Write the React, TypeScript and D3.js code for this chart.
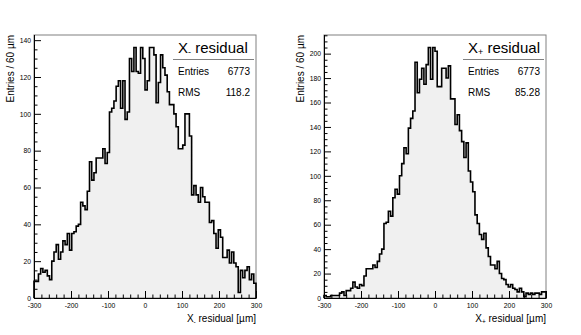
import React, { useEffect, useRef } from 'react';
import * as d3 from 'd3';

// bin contents, 100 bins of 6 um from -300 to 300
const xMinusCounts = [
  9, 9, 13, 16, 14, 15, 12, 10, 20, 25,
  29, 21, 25, 31, 29, 35, 26, 35, 36, 39,
  40, 52, 50, 48, 58, 74, 64, 68, 76, 76,
  76, 81, 73, 79, 101, 103, 107, 115, 118, 103,
  118, 97, 101, 130, 123, 136, 123, 122, 136, 130,
  113, 118, 136, 136, 132, 106, 117, 132, 125, 121,
  112, 105, 105, 100, 93, 81, 81, 83, 100, 100,
  88, 56, 61, 56, 52, 60, 55, 52, 52, 41,
  42, 35, 27, 37, 33, 22, 22, 26, 19, 25,
  19, 17, 3, 15, 11, 15, 17, 10, 13, 8,
];

const xPlusCounts = [
  2, 1, 1, 2, 2, 2, 2, 4, 5, 2,
  6, 6, 8, 13, 9, 8, 11, 10, 18, 24,
  24, 24, 27, 25, 30, 36, 40, 61, 62, 71,
  67, 82, 89, 85, 100, 110, 123, 118, 139, 147,
  153, 193, 168, 179, 188, 175, 191, 205, 179, 205,
  202, 173, 173, 188, 188, 180, 190, 163, 163, 142,
  150, 137, 128, 115, 127, 104, 95, 87, 68, 61,
  52, 48, 53, 41, 34, 27, 27, 24, 30, 20,
  16, 15, 11, 9, 11, 8, 7, 5, 8, 5,
  1, 4, 3, 4, 3, 4, 4, 3, 5, 5,
];

const binLow = -300;
const binHigh = 300;
const binWidth = 6;

const xTickValues = [-300, -200, -100, 0, 100, 200, 300];
const xMinusYTicks = [0, 20, 40, 60, 80, 100, 120, 140];
const xPlusYTicks = [0, 20, 40, 60, 80, 100, 120, 140, 160, 180, 200];

const statNames = ['Entries', 'RMS'];
const xMinusStats = ['6773', '118.2'];
const xPlusStats = ['6773', '85.28'];

const FONT = '"Liberation Sans", Arial, Helvetica, sans-serif';

const drawPanel = (svg, offset, counts, yTicks, subSign, stats) => {
    const g = svg.append('g').attr('transform', `translate(${offset},0)`);

    const x = d3.scaleLinear().domain([binLow, binHigh]).range([34, 256]);
    const y = d3.scaleLinear().domain([0, d3.max(counts) * 1.05]).range([298, 35]);

    const pts = counts.map((c, i) => [binLow + i * binWidth, c]);
    pts.push([binHigh, counts[counts.length - 1]]);

    const area = d3.area()
        .x(d => x(d[0]))
        .y0(y(0))
        .y1(d => y(d[1]))
        .curve(d3.curveStepAfter);

    const line = d3.line()
        .x(d => x(d[0]))
        .y(d => y(d[1]))
        .curve(d3.curveStepAfter);

    g.append('path').attr('d', area(pts)).attr('fill', '#f0f0f0');

    // frame
    g.append('rect')
        .attr('x', 34).attr('y', 35)
        .attr('width', 222).attr('height', 263)
        .attr('fill', 'none').attr('stroke', '#808080').attr('stroke-width', 1);

    g.append('path')
        .attr('d', line([[binLow, 0], ...pts, [binHigh, 0]]))
        .attr('fill', 'none')
        .attr('stroke', '#000')
        .attr('stroke-width', 1.6)
        .attr('stroke-linejoin', 'miter');

    // x axis
    const xAxis = g.append('g')
        .attr('transform', 'translate(0,298)')
        .call(d3.axisBottom(x).tickValues(xTickValues).tickFormat(d => String(d))
            .tickSize(-7).tickSizeOuter(0).tickPadding(5.5));
    xAxis.selectAll('text').attr('font-size', 6.8).attr('font-family', FONT);

    const xMinor = d3.range(binLow, binHigh + 1, 20).filter(v => v % 100 !== 0);
    g.selectAll('.xminor').data(xMinor).enter().append('line')
        .attr('x1', d => x(d) + 0.5).attr('x2', d => x(d) + 0.5)
        .attr('y1', 298).attr('y2', 294.5)
        .attr('stroke', '#000');

    // y axis
    const yAxis = g.append('g')
        .attr('transform', 'translate(34,0)')
        .call(d3.axisLeft(y).tickValues(yTicks).tickFormat(d => String(d))
            .tickSize(-7).tickSizeOuter(0).tickPadding(3));
    yAxis.select('.domain').attr('d', `M0.5,35V298.5`);
    yAxis.selectAll('text').attr('font-size', 6.8).attr('font-family', FONT);

    const yMinor = d3.range(0, y.domain()[1], 5).filter(v => v % 20 !== 0);
    g.selectAll('.yminor').data(yMinor).enter().append('line')
        .attr('x1', 34).attr('x2', 37.5)
        .attr('y1', d => y(d) + 0.5).attr('y2', d => y(d) + 0.5)
        .attr('stroke', '#000');

    // axis titles
    g.append('text')
        .attr('transform', 'translate(13.5,35) rotate(-90)')
        .attr('text-anchor', 'end')
        .attr('font-size', 10)
        .attr('font-family', FONT)
        .text('Entries / 60 µm');

    const xt = g.append('text')
        .attr('x', 256).attr('y', 322)
        .attr('text-anchor', 'end')
        .attr('font-size', 10)
        .attr('font-family', FONT);
    xt.append('tspan').text('X');
    xt.append('tspan').attr('dy', 1.5).attr('font-size', 6.5).text(subSign);
    xt.append('tspan').attr('dy', -1.5).text(' residual [µm]');

    // stats box
    const st = g.append('text')
        .attr('x', 178).attr('y', 53)
        .attr('font-size', 15)
        .attr('font-family', FONT);
    st.append('tspan').text('X');
    st.append('tspan').attr('dy', 2).attr('font-size', 9).text(subSign);
    st.append('tspan').attr('dy', -2).text(' residual');

    g.append('line')
        .attr('x1', 173).attr('x2', 254)
        .attr('y1', 59.5).attr('y2', 59.5)
        .attr('stroke', '#808080').attr('stroke-width', 1.2);

    statNames.forEach((name, i) => {
        const yy = 74.5 + i * 21.5;
        g.append('text')
            .attr('x', 178).attr('y', yy)
            .attr('font-size', 10).attr('font-family', FONT)
            .text(name);
        g.append('text')
            .attr('x', 250).attr('y', yy)
            .attr('text-anchor', 'end')
            .attr('font-size', 10).attr('font-family', FONT)
            .text(stats[i]);
    });
};

const App = () => {
    const chartRef = useRef(null);

    useEffect(() => {
        d3.select(chartRef.current).selectAll('svg').remove();
        const svg = d3.select(chartRef.current)
            .append('svg')
            .attr('width', 581)
            .attr('height', 335)
            .style('position', 'absolute')
            .style('left', '0px')
            .style('top', '0px')
            .style('background', '#fff');

        drawPanel(svg, 0, xMinusCounts, xMinusYTicks, '-', xMinusStats);
        drawPanel(svg, 290, xPlusCounts, xPlusYTicks, '+', xPlusStats);
    }, []);

    return <div ref={chartRef}></div>;
};

export default App;
